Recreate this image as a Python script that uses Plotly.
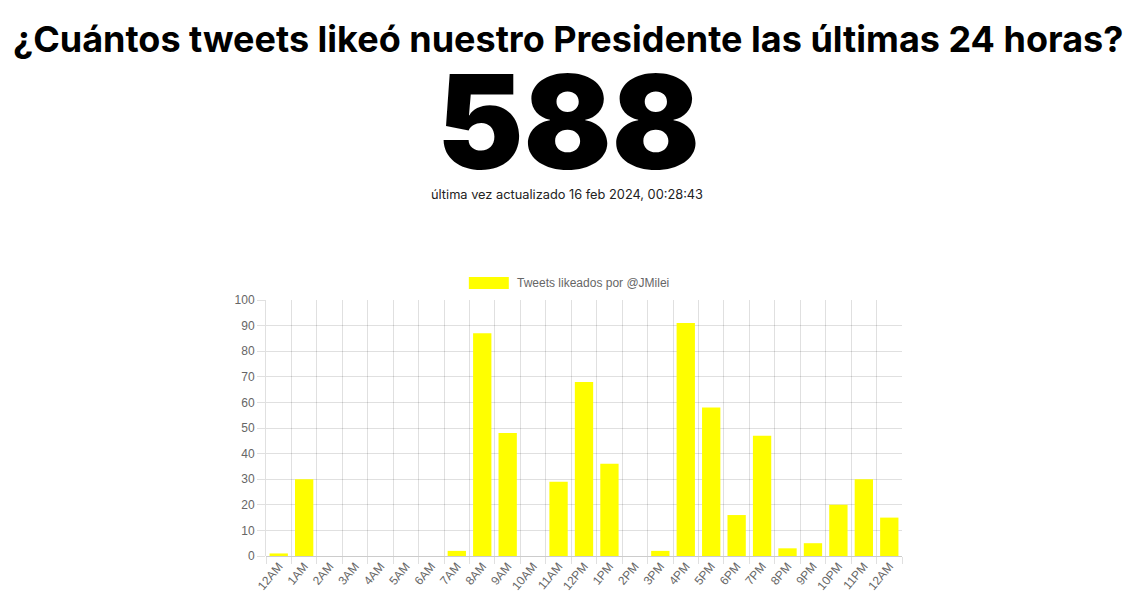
import plotly.graph_objects as go

hours = ["12AM", "1AM", "2AM", "3AM", "4AM", "5AM", "6AM", "7AM", "8AM", "9AM", "10AM", "11AM",
         "12PM", "1PM", "2PM", "3PM", "4PM", "5PM", "6PM", "7PM", "8PM", "9PM", "10PM", "11PM", "12AM"]
likes = [1, 30, 0, 0, 0, 0, 0, 2, 87, 48, 0, 29, 68, 36, 0, 2, 91, 58, 16, 47, 3, 5, 20, 30, 15]
y_ticks = list(range(0, 101, 10))

title_text = "¿Cuántos tweets likeó nuestro Presidente las últimas 24 horas?"
total_text = str(sum(likes))
updated_text = "última vez actualizado 16 feb 2024, 00:28:43"
legend_text = "Tweets likeados por @JMilei"

W, H = 1148, 592
L, R, T, B = 266, 902.5, 300, 556


def px(x):
    return (x - L) / (R - L)


def py(y):
    return (B - y) / (B - T)


pos = list(range(len(hours)))

fig = go.Figure()
fig.add_trace(go.Bar(x=pos, y=likes, marker=dict(color="#ffff00", line=dict(width=0)),
                     name=legend_text, showlegend=False, hoverinfo="x+y"))

grid = "rgba(0,0,0,0.12)"
fig.update_layout(
    width=W, height=H,
    margin=dict(l=L, r=W - R, t=T, b=H - B, autoexpand=False),
    paper_bgcolor="white", plot_bgcolor="white",
    bargap=0.28,
    font=dict(family="Liberation Sans, Arial, sans-serif", size=12, color="#666"),
    xaxis=dict(
        range=[-0.5, len(hours) - 0.5], tickmode="array", tickvals=pos, ticktext=hours,
        tickangle=-50, showgrid=False, ticks="", zeroline=False, automargin=False,
        tickfont=dict(size=12, color="#666"),
        minor=dict(tick0=-0.5, dtick=1, showgrid=True, gridcolor=grid, gridwidth=1,
                   ticks="outside", ticklen=7, tickcolor=grid),
        showline=False,
    ),
    yaxis=dict(
        range=[0, 100], tickmode="array", tickvals=y_ticks, showgrid=True, gridcolor=grid,
        ticks="outside", ticklen=8, tickcolor=grid, zeroline=True, zerolinecolor="rgba(0,0,0,0.2)",
        zerolinewidth=1, automargin=False, tickfont=dict(size=12, color="#666"),
        showline=True, linecolor=grid, linewidth=1,
    ),
)

fig.add_annotation(text=title_text, xref="paper", yref="paper", x=px(568), y=py(39),
                   xanchor="center", yanchor="middle", showarrow=False,
                   font=dict(family="Inter", size=36, color="#000", weight=700))
fig.add_annotation(text=total_text, xref="paper", yref="paper", x=px(569), y=py(121),
                   xanchor="center", yanchor="middle", showarrow=False,
                   font=dict(family="Inter", size=130, color="#000", weight=900))
fig.add_annotation(text=updated_text, xref="paper", yref="paper", x=px(567), y=py(194),
                   xanchor="center", yanchor="middle", showarrow=False,
                   font=dict(family="Inter", size=12.8, color="#222"))

# legend
fig.add_shape(type="rect", xref="paper", yref="paper", x0=px(469), x1=px(509), y0=py(289), y1=py(277),
              fillcolor="#ffff00", line=dict(width=0))
fig.add_annotation(text=legend_text, xref="paper", yref="paper", x=px(515), y=py(283),
                   xanchor="left", yanchor="middle", showarrow=False,
                   font=dict(size=12, color="#666"))

fig.write_html("out.html")
